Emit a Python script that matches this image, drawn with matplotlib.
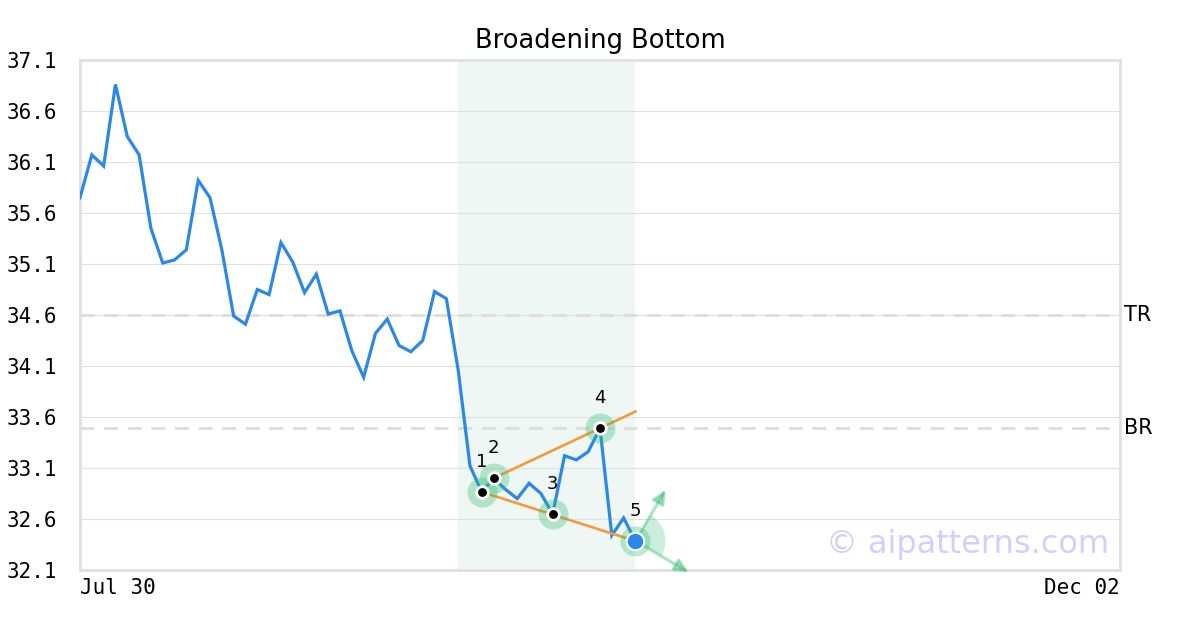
import matplotlib.pyplot as plt
from matplotlib.patches import Wedge
from matplotlib.transforms import ScaledTranslation
import numpy as np

# closing prices, one per trading day from Jul 30
prices = [35.75, 36.17, 36.06, 36.86, 36.35, 36.17, 35.45, 35.11, 35.14, 35.24,
          35.92, 35.75, 35.24, 34.59, 34.51, 34.85, 34.80, 35.31, 35.12, 34.82,
          35.00, 34.61, 34.64, 34.25, 33.99, 34.42, 34.56, 34.30, 34.24, 34.35,
          34.83, 34.76, 34.06, 33.12, 32.865, 33.00, 32.89, 32.80, 32.95, 32.85,
          32.65, 33.22, 33.18, 33.26, 33.49, 32.44, 32.61, 32.384]
n_days = 88
xtick_pos = [0, 88]
xtick_labels = ['Jul 30', 'Dec 02']
yticks = [32.1, 32.6, 33.1, 33.6, 34.1, 34.6, 35.1, 35.6, 36.1, 36.6, 37.1]
pattern_idx = [34, 35, 40, 44, 47]
pattern_labels = ['1', '2', '3', '4', '5']
zone = (32, 47)
tr_level = 34.6
br_level = 33.49

blue = '#2b88e8'
orange = '#f5993d'
green = '#2ebd73'
grey = '#e0e0e0'

fig = plt.figure(figsize=(12, 6.3), dpi=100)
ax = fig.add_axes([80/1200, 60/630, 1040/1200, 510/630])

x = np.arange(len(prices))
px = np.array(pattern_idx)
py = np.array([prices[i] for i in pattern_idx])

ax.axvspan(zone[0], zone[1], color='#eef7f3', zorder=0, lw=0)
for v in yticks:
    ax.axhline(v, color=grey, lw=0.8, zorder=1)
for v in (tr_level, br_level):
    ax.axhline(v, color='#dcdcdc', lw=2, ls=(0, (5, 3.5)), zorder=1)

ax.plot(x, prices, color=blue, lw=2.3, zorder=3, solid_joinstyle='miter')

# trend lines
ax.plot([px[0], px[4]], [py[0], py[4]], color=orange, lw=1.9, zorder=4)
slope = (py[3] - py[1]) / (px[3] - px[1])
ax.plot([px[1], zone[1]], [py[1], py[1] + slope * (zone[1] - px[1])], color=orange, lw=1.9, zorder=4)

ax.scatter(px, py, s=470, color=green, alpha=0.32, lw=0, zorder=5)
ax.scatter(px[:4], py[:4], s=70, color='black', edgecolor='white', lw=2, zorder=6)
ax.scatter(px[4:], py[4:], s=160, color=blue, edgecolor='white', lw=1.5, zorder=6)

for i, lab in enumerate(pattern_labels):
    ax.annotate(lab, (px[i], py[i]), xytext=(0, 21.5), textcoords='offset points',
                ha='center', va='center', fontsize=13, zorder=7)

ax.set_xlim(0, n_days)
ax.set_ylim(yticks[0], yticks[-1])

# breakout fan at point 5
trans = fig.dpi_scale_trans + ScaledTranslation(px[4], py[4], ax.transData)
ax.add_patch(Wedge((0, 0), 0.30, -30, 60, transform=trans, color=green, alpha=0.25, lw=0, zorder=5))
for dx, dy in [(0.30, 0.51), (0.53, -0.31)]:
    ax.annotate('', xy=(dx, dy), xycoords=trans, xytext=(px[4], py[4]), textcoords='data',
                arrowprops=dict(arrowstyle='-|>,head_length=0.8,head_width=0.4', color=green,
                                alpha=0.4, lw=2.2, shrinkA=0, shrinkB=0), zorder=5)

ax.set_yticks(yticks)
ax.set_yticklabels([f'{v:.1f}' for v in yticks], family='DejaVu Sans Mono', fontsize=15)
ax.set_xticks(xtick_pos)
ax.set_xticklabels(xtick_labels, family='DejaVu Sans Mono', fontsize=15)
ax.get_xticklabels()[0].set_ha('left')
ax.get_xticklabels()[1].set_ha('right')
ax.tick_params(length=0)
ax.tick_params(axis='y', pad=16.5)
ax.tick_params(axis='x', pad=6)
ax.grid(False)
for s in ax.spines.values():
    s.set_color(grey)
    s.set_linewidth(2)

ax.text(1.004, tr_level, 'TR', transform=ax.get_yaxis_transform(), va='center', fontsize=15)
ax.text(1.004, br_level, 'BR', transform=ax.get_yaxis_transform(), va='center', fontsize=15)

ax.set_title('Broadening Bottom', fontsize=18.5, pad=9)
ax.text(0.99, 0.05, '\u00a9 aipatterns.com', transform=ax.transAxes, ha='right', va='center',
        fontsize=23, color='#d0d0ff', zorder=8)

fig.savefig('out.png', dpi=100)
